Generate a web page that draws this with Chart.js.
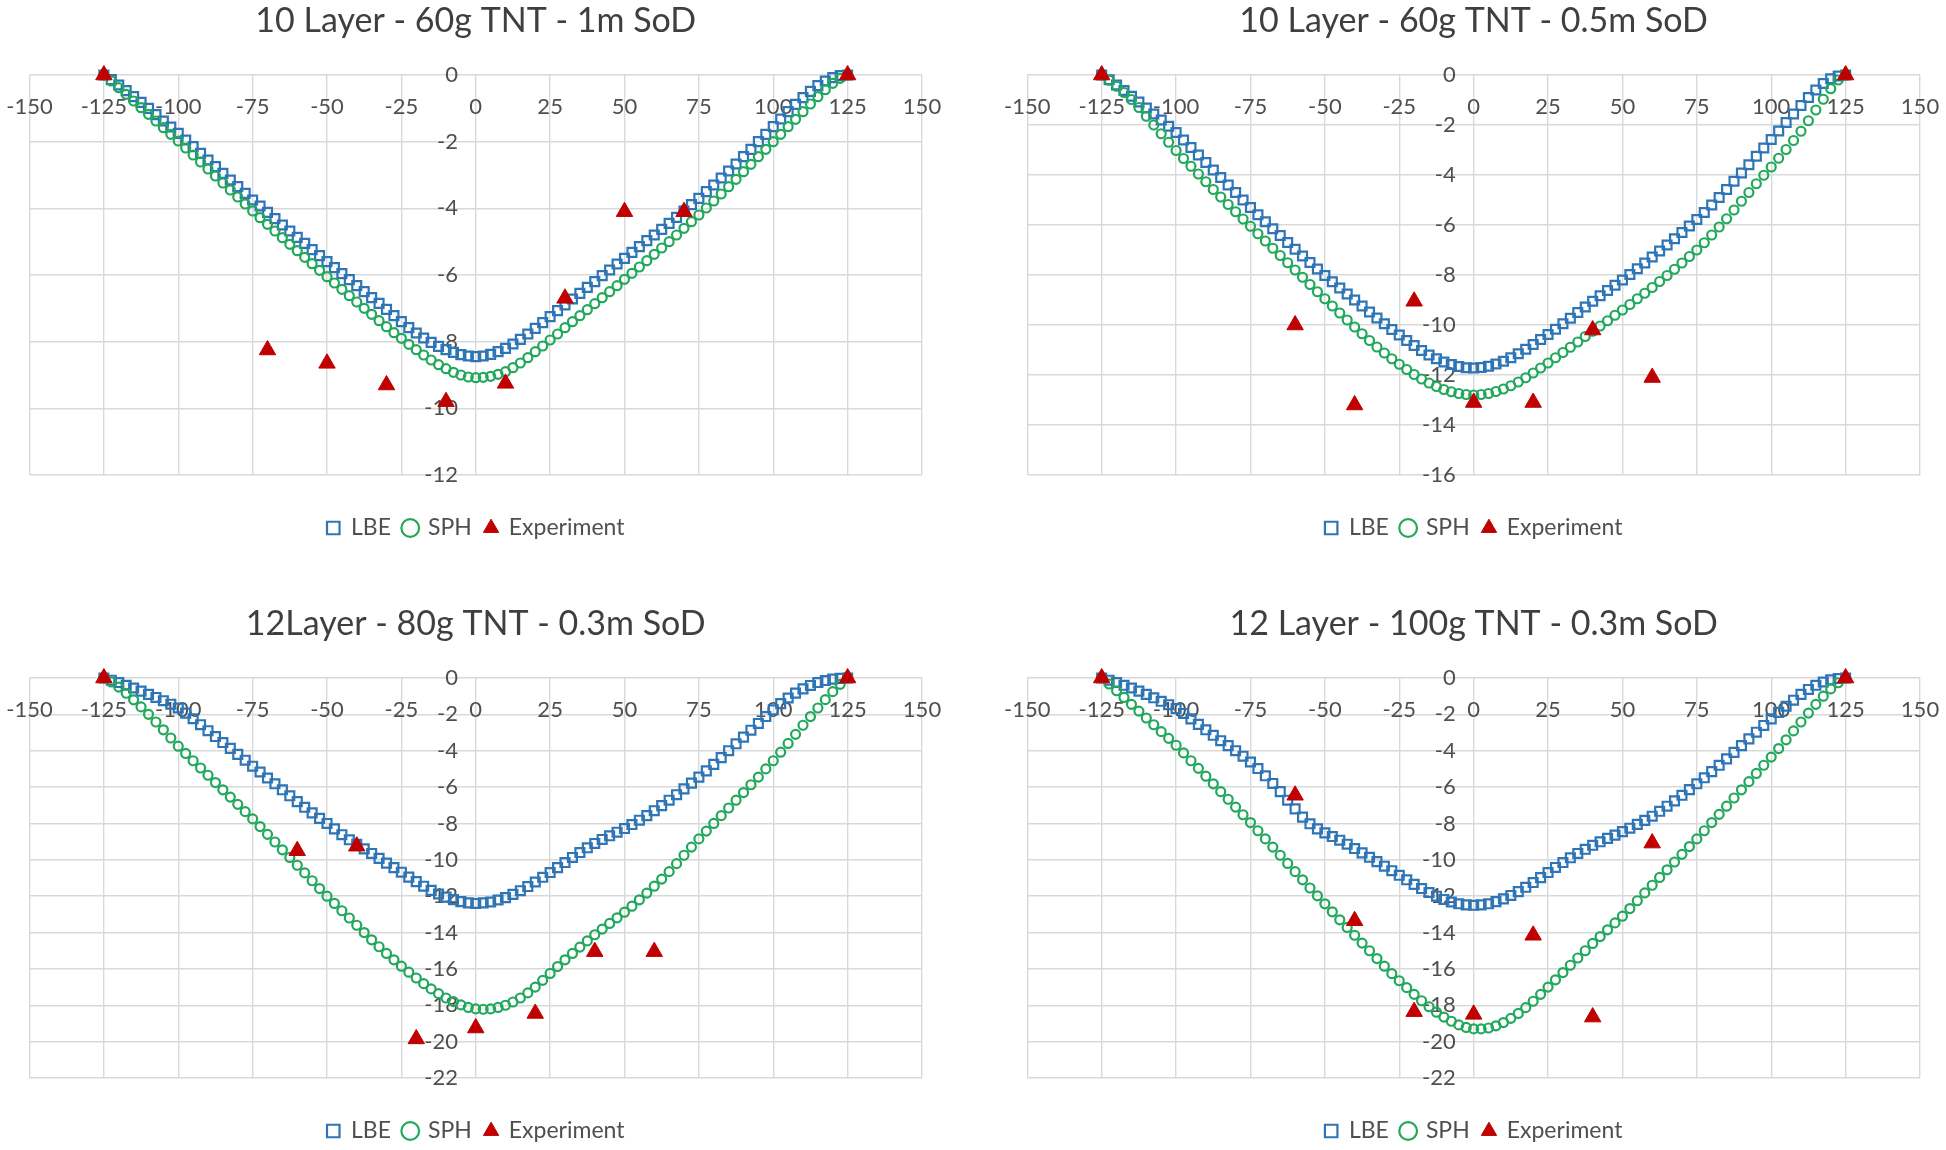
<!DOCTYPE html>
<html>
<head>
<meta charset="utf-8">
<script src="https://cdn.jsdelivr.net/npm/chart.js@4.4.1/dist/chart.umd.min.js"></script>
<style>
html,body{margin:0;padding:0;background:#ffffff;width:1946px;height:1150px;overflow:hidden;position:relative}
canvas{position:absolute}
</style>
</head>
<body>
<canvas id="c1" width="973" height="560" style="left:0px;top:0px"></canvas>
<canvas id="c2" width="973" height="560" style="left:973px;top:0px"></canvas>
<canvas id="c3" width="973" height="560" style="left:0px;top:603px"></canvas>
<canvas id="c4" width="973" height="560" style="left:973px;top:603px"></canvas>
<script>
// ---------- DATA ----------
const chartTitles = [
  '10 Layer - 60g TNT - 1m SoD',
  '10 Layer - 60g TNT - 0.5m SoD',
  '12Layer - 80g TNT - 0.3m SoD',
  '12 Layer - 100g TNT - 0.3m SoD'
];
const seriesNames = ['LBE', 'SPH', 'Experiment'];
const xAxisMin = -150, xAxisMax = 150, xAxisStep = 25;
const yAxisMins = [-12, -16, -22, -22];
const yAxisStep = 2;

// positions along the plate (mm) for the simulated profiles
const xPositions = [-125,-122.5,-120,-117.5,-115,-112.5,-110,-107.5,-105,-102.5,-100,
  -97.5,-95,-92.5,-90,-87.5,-85,-82.5,-80,-77.5,-75,
  -72.5,-70,-67.5,-65,-62.5,-60,-57.5,-55,-52.5,-50,
  -47.5,-45,-42.5,-40,-37.5,-35,-32.5,-30,-27.5,-25,
  -22.5,-20,-17.5,-15,-12.5,-10,-7.5,-5,-2.5,0,
  2.5,5,7.5,10,12.5,15,17.5,20,22.5,25,
  27.5,30,32.5,35,37.5,40,42.5,45,47.5,50,
  52.5,55,57.5,60,62.5,65,67.5,70,72.5,75,
  77.5,80,82.5,85,87.5,90,92.5,95,97.5,100,
  102.5,105,107.5,110,112.5,115,117.5,120,122.5,125];

// Chart 1: 10 Layer - 60g TNT - 1m SoD
const lbe1 = [0,-0.14,-0.3,-0.47,-0.65,-0.82,-1.0,-1.19,-1.38,-1.56,-1.75,
  -1.95,-2.15,-2.35,-2.55,-2.75,-2.95,-3.15,-3.35,-3.55,-3.75,
  -3.93,-4.12,-4.31,-4.5,-4.68,-4.87,-5.05,-5.24,-5.42,-5.6,
  -5.78,-5.96,-6.14,-6.32,-6.5,-6.68,-6.85,-7.03,-7.22,-7.4,
  -7.58,-7.74,-7.89,-8.02,-8.14,-8.24,-8.32,-8.39,-8.43,-8.45,
  -8.43,-8.38,-8.3,-8.2,-8.07,-7.93,-7.77,-7.6,-7.43,-7.25,
  -7.07,-6.9,-6.72,-6.55,-6.37,-6.2,-6.02,-5.85,-5.67,-5.5,
  -5.32,-5.15,-4.97,-4.8,-4.63,-4.45,-4.27,-4.08,-3.89,-3.7,
  -3.5,-3.3,-3.09,-2.88,-2.67,-2.45,-2.23,-2.0,-1.78,-1.55,
  -1.32,-1.1,-0.88,-0.68,-0.49,-0.32,-0.18,-0.08,-0.02,0];
const sph1 = [0,-0.18,-0.38,-0.58,-0.78,-0.98,-1.18,-1.38,-1.58,-1.78,-1.98,
  -2.19,-2.4,-2.61,-2.82,-3.03,-3.24,-3.45,-3.66,-3.87,-4.08,
  -4.28,-4.48,-4.68,-4.88,-5.08,-5.27,-5.47,-5.66,-5.86,-6.05,
  -6.24,-6.43,-6.62,-6.81,-7.0,-7.18,-7.37,-7.55,-7.73,-7.9,
  -8.08,-8.24,-8.4,-8.55,-8.69,-8.81,-8.92,-9.0,-9.06,-9.08,
  -9.07,-9.04,-8.98,-8.9,-8.78,-8.64,-8.48,-8.3,-8.13,-7.95,
  -7.77,-7.58,-7.4,-7.22,-7.04,-6.86,-6.68,-6.5,-6.32,-6.13,
  -5.95,-5.76,-5.57,-5.38,-5.19,-5.0,-4.8,-4.6,-4.4,-4.2,
  -3.99,-3.78,-3.57,-3.35,-3.13,-2.9,-2.68,-2.45,-2.23,-2.0,
  -1.78,-1.55,-1.33,-1.1,-0.87,-0.65,-0.44,-0.25,-0.1,0];
const expX1 = [-125,-70,-50,-30,-10,10,30,50,70,125];
const expY1 = [0,-8.25,-8.65,-9.3,-9.8,-9.25,-6.7,-4.1,-4.1,0];

// Chart 2: 10 Layer - 60g TNT - 0.5m SoD
const lbe2 = [0,-0.19,-0.4,-0.62,-0.85,-1.08,-1.32,-1.56,-1.8,-2.05,-2.3,
  -2.6,-2.9,-3.2,-3.5,-3.8,-4.1,-4.4,-4.7,-5.0,-5.3,
  -5.59,-5.87,-6.15,-6.42,-6.7,-6.97,-7.24,-7.5,-7.76,-8.02,
  -8.27,-8.52,-8.76,-9.0,-9.24,-9.48,-9.72,-9.95,-10.18,-10.4,
  -10.62,-10.82,-11.02,-11.2,-11.35,-11.48,-11.58,-11.66,-11.71,-11.72,
  -11.7,-11.65,-11.56,-11.45,-11.31,-11.15,-10.97,-10.78,-10.58,-10.38,
  -10.17,-9.95,-9.73,-9.5,-9.28,-9.05,-8.83,-8.62,-8.41,-8.2,
  -7.98,-7.75,-7.52,-7.28,-7.04,-6.8,-6.55,-6.3,-6.04,-5.78,
  -5.5,-5.2,-4.9,-4.58,-4.25,-3.92,-3.59,-3.25,-2.92,-2.58,
  -2.24,-1.9,-1.56,-1.22,-0.9,-0.6,-0.34,-0.15,-0.04,0];
const sph2 = [0,-0.21,-0.45,-0.7,-0.98,-1.3,-1.65,-2.0,-2.35,-2.69,-3.02,
  -3.34,-3.65,-3.96,-4.27,-4.58,-4.88,-5.18,-5.47,-5.76,-6.05,
  -6.35,-6.64,-6.93,-7.22,-7.51,-7.8,-8.09,-8.38,-8.67,-8.95,
  -9.24,-9.52,-9.8,-10.08,-10.35,-10.62,-10.88,-11.12,-11.35,-11.57,
  -11.78,-11.98,-12.16,-12.32,-12.46,-12.58,-12.67,-12.74,-12.78,-12.8,
  -12.78,-12.74,-12.66,-12.56,-12.43,-12.28,-12.11,-11.92,-11.72,-11.52,
  -11.31,-11.1,-10.89,-10.68,-10.46,-10.25,-10.04,-9.83,-9.61,-9.4,
  -9.18,-8.95,-8.73,-8.5,-8.26,-8.02,-7.77,-7.52,-7.26,-7.0,
  -6.71,-6.4,-6.08,-5.75,-5.4,-5.05,-4.7,-4.35,-4.01,-3.68,
  -3.33,-2.98,-2.62,-2.25,-1.83,-1.4,-0.97,-0.55,-0.2,0];
const expX2 = [-125,-60,-40,-20,0,20,40,60,125];
const expY2 = [0,-10.0,-13.2,-9.05,-13.1,-13.1,-10.2,-12.1,0];

// Chart 3: 12Layer - 80g TNT - 0.3m SoD
const lbe3 = [0,-0.12,-0.25,-0.4,-0.55,-0.72,-0.9,-1.07,-1.25,-1.44,-1.65,
  -1.93,-2.24,-2.57,-2.9,-3.22,-3.55,-3.87,-4.2,-4.52,-4.85,
  -5.17,-5.5,-5.82,-6.15,-6.48,-6.8,-7.11,-7.42,-7.72,-8.0,
  -8.3,-8.62,-8.9,-9.15,-9.4,-9.65,-9.92,-10.18,-10.43,-10.68,
  -10.95,-11.2,-11.45,-11.68,-11.88,-12.05,-12.19,-12.3,-12.37,-12.4,
  -12.37,-12.32,-12.21,-12.08,-11.9,-11.7,-11.47,-11.22,-10.96,-10.7,
  -10.43,-10.15,-9.87,-9.6,-9.34,-9.1,-8.88,-8.68,-8.48,-8.28,
  -8.06,-7.82,-7.57,-7.3,-7.02,-6.72,-6.42,-6.1,-5.78,-5.45,
  -5.11,-4.75,-4.38,-4.0,-3.62,-3.25,-2.87,-2.5,-2.12,-1.75,
  -1.41,-1.1,-0.83,-0.6,-0.41,-0.25,-0.14,-0.06,-0.02,0];
const sph3 = [0,-0.22,-0.5,-0.84,-1.2,-1.59,-2.0,-2.42,-2.85,-3.3,-3.75,
  -4.15,-4.55,-4.95,-5.35,-5.75,-6.15,-6.55,-6.95,-7.35,-7.75,
  -8.17,-8.6,-9.02,-9.45,-9.87,-10.3,-10.72,-11.15,-11.58,-12.0,
  -12.4,-12.8,-13.2,-13.6,-14.0,-14.4,-14.78,-15.15,-15.5,-15.85,
  -16.18,-16.5,-16.81,-17.1,-17.36,-17.6,-17.8,-17.98,-18.12,-18.2,
  -18.22,-18.2,-18.12,-18.0,-17.82,-17.6,-17.32,-17.0,-16.63,-16.25,
  -15.87,-15.5,-15.15,-14.8,-14.46,-14.12,-13.81,-13.5,-13.19,-12.88,
  -12.55,-12.2,-11.83,-11.45,-11.06,-10.65,-10.21,-9.75,-9.3,-8.85,
  -8.42,-8.0,-7.57,-7.15,-6.72,-6.3,-5.87,-5.45,-5.0,-4.55,
  -4.08,-3.6,-3.1,-2.6,-2.12,-1.65,-1.19,-0.75,-0.35,0];
const expX3 = [-125,-60,-40,-20,0,20,40,60,125];
const expY3 = [0,-9.5,-9.25,-19.85,-19.25,-18.45,-15.05,-15.05,0];

// Chart 4: 12 Layer - 100g TNT - 0.3m SoD
const lbe4 = [0,-0.12,-0.25,-0.4,-0.55,-0.72,-0.9,-1.09,-1.28,-1.47,-1.68,
  -1.95,-2.25,-2.55,-2.85,-3.15,-3.45,-3.72,-4.0,-4.3,-4.62,
  -4.98,-5.38,-5.8,-6.25,-6.72,-7.2,-7.65,-8.02,-8.3,-8.52,
  -8.72,-8.92,-9.14,-9.38,-9.62,-9.86,-10.1,-10.35,-10.6,-10.85,
  -11.1,-11.35,-11.58,-11.8,-12.0,-12.18,-12.32,-12.42,-12.48,-12.5,
  -12.48,-12.42,-12.3,-12.15,-11.96,-11.75,-11.51,-11.25,-10.98,-10.7,
  -10.42,-10.15,-9.89,-9.65,-9.42,-9.2,-9.01,-8.82,-8.64,-8.45,
  -8.26,-8.05,-7.83,-7.6,-7.33,-7.05,-6.76,-6.45,-6.14,-5.82,
  -5.49,-5.15,-4.8,-4.45,-4.09,-3.72,-3.35,-2.98,-2.61,-2.25,
  -1.89,-1.55,-1.22,-0.9,-0.63,-0.4,-0.22,-0.1,-0.03,0];
const sph4 = [0,-0.33,-0.7,-1.07,-1.45,-1.82,-2.2,-2.57,-2.95,-3.32,-3.7,
  -4.12,-4.55,-4.97,-5.4,-5.82,-6.25,-6.67,-7.1,-7.52,-7.95,
  -8.4,-8.85,-9.3,-9.75,-10.2,-10.65,-11.1,-11.55,-11.98,-12.42,
  -12.86,-13.3,-13.72,-14.15,-14.58,-15.0,-15.43,-15.85,-16.26,-16.65,
  -17.03,-17.4,-17.75,-18.08,-18.38,-18.65,-18.88,-19.08,-19.22,-19.3,
  -19.3,-19.25,-19.13,-18.95,-18.72,-18.45,-18.13,-17.78,-17.4,-17.0,
  -16.6,-16.2,-15.8,-15.4,-15.0,-14.6,-14.22,-13.85,-13.47,-13.1,
  -12.68,-12.25,-11.82,-11.4,-10.97,-10.55,-10.12,-9.7,-9.27,-8.85,
  -8.4,-7.95,-7.5,-7.05,-6.6,-6.15,-5.7,-5.25,-4.8,-4.35,
  -3.88,-3.4,-2.91,-2.42,-1.93,-1.45,-1.0,-0.6,-0.26,0];
const expX4 = [-125,-60,-40,-20,0,20,40,60,125];
const expY4 = [0,-6.45,-13.35,-18.35,-18.5,-14.15,-18.65,-9.08,0];

// ---------- STYLE / LAYOUT ----------
const COLORS = { lbe: '#2E75B6', sph: '#22A85C', exp: '#C00000', grid: '#D9D9D9', tick: '#4F4F4F', title: '#3F3F3F' };
const FONT = 'Lato';

const panels = [
  { id: 'c1', title: chartTitles[0], lbe: lbe1, sph: sph1, ex: expX1, ey: expY1, ymin: yAxisMins[0], padL: 29.5, padR: 51 },
  { id: 'c2', title: chartTitles[1], lbe: lbe2, sph: sph2, ex: expX2, ey: expY2, ymin: yAxisMins[1], padL: 54.3, padR: 26 },
  { id: 'c3', title: chartTitles[2], lbe: lbe3, sph: sph3, ex: expX3, ey: expY3, ymin: yAxisMins[2], padL: 29.5, padR: 51 },
  { id: 'c4', title: chartTitles[3], lbe: lbe4, sph: sph4, ex: expX4, ey: expY4, ymin: yAxisMins[3], padL: 54.3, padR: 26 }
];

function toPoints(xs, ys) { return xs.map((x, i) => ({ x: x, y: ys[i] })); }

function build() {
  panels.forEach(p => {
    new Chart(document.getElementById(p.id), {
      type: 'scatter',
      data: {
        datasets: [
          { label: seriesNames[0], data: toPoints(xPositions, p.lbe), pointStyle: 'rect', pointRadius: 6.3,
            borderColor: COLORS.lbe, backgroundColor: 'rgba(0,0,0,0)', borderWidth: 2.2, order: 2, clip: false },
          { label: seriesNames[1], data: toPoints(xPositions, p.sph), pointStyle: 'circle', pointRadius: 4.5,
            borderColor: COLORS.sph, backgroundColor: 'rgba(0,0,0,0)', borderWidth: 2.2, order: 1, clip: false },
          { label: seriesNames[2], data: toPoints(p.ex, p.ey), pointStyle: 'triangle', pointRadius: 9.5,
            borderColor: COLORS.exp, backgroundColor: COLORS.exp, borderWidth: 1, order: 0, clip: false }
        ]
      },
      options: {
        responsive: false,
        animation: false,
        devicePixelRatio: 1,
        events: [],
        layout: { padding: { top: 0, left: p.padL, right: p.padR, bottom: 10.5 } },
        plugins: {
          title: {
            display: true, text: p.title, color: COLORS.title, fullSize: false,
            font: { family: FONT, size: 34, weight: 'normal' },
            padding: { top: 1, bottom: 33.2 }
          },
          legend: {
            display: true, position: 'bottom', fullSize: false, align: 'center',
            title: { display: true, text: ' ', font: { size: 1 }, padding: { top: 27.3, bottom: 0 } },
            labels: {
              usePointStyle: true, boxWidth: 12.5, boxHeight: 12.5, padding: 13, color: COLORS.tick,
              font: { family: FONT, size: 23 },
              sort: (a, b) => a.datasetIndex - b.datasetIndex
            }
          },
          tooltip: { enabled: false }
        },
        scales: {
          x: {
            type: 'linear', min: xAxisMin, max: xAxisMax, position: { y: 0 },
            grid: { color: COLORS.grid, lineWidth: 1.4, drawTicks: false },
            border: { display: false },
            ticks: { stepSize: xAxisStep, autoSkip: false, maxRotation: 0, minRotation: 0, padding: 18.8,
                     color: COLORS.tick, font: { family: FONT, size: 22 } },
            afterFit: (s) => { s.height = 0; s.paddingLeft = 0; s.paddingRight = 0; }
          },
          y: {
            type: 'linear', min: p.ymin, max: 0, position: { x: -6 },
            grid: { color: COLORS.grid, lineWidth: 1.4, drawTicks: false },
            border: { display: false },
            ticks: { stepSize: yAxisStep, autoSkip: false, padding: 0,
                     color: COLORS.tick, font: { family: FONT, size: 22 } },
            afterFit: (s) => { s.width = 0; s.paddingTop = 0; s.paddingBottom = 0; }
          }
        }
      }
    });
  });
}

if (document.fonts && document.fonts.load) {
  Promise.all([document.fonts.load('34px Lato'), document.fonts.load('22px Lato')]).then(build, build);
} else {
  build();
}
</script>
</body>
</html>
